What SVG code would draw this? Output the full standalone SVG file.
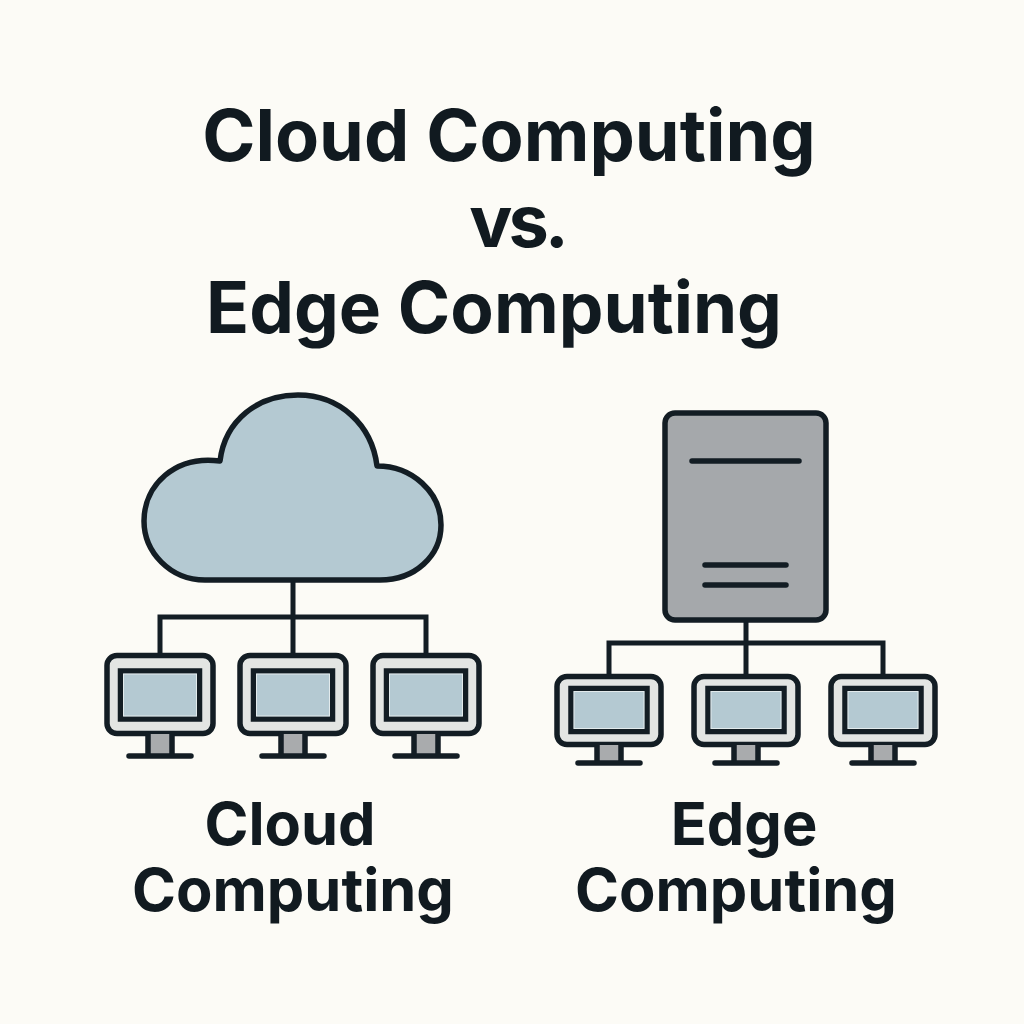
<svg xmlns="http://www.w3.org/2000/svg" width="1024" height="1024" viewBox="0 0 1024 1024">
<style>
.t{font-family:Inter,"Liberation Sans",sans-serif;font-weight:700;fill:#111a20;text-anchor:middle}
.h{font-size:72px}.h2{font-size:71px}.l{font-size:59.5px}
.s{stroke:#131d24;stroke-width:5.5;fill:none;stroke-linecap:round;stroke-linejoin:round}
.c{stroke:#131d24;stroke-width:5;fill:none;stroke-linecap:butt;stroke-linejoin:miter}
.f{stroke:#131d24;stroke-width:5.5;stroke-linejoin:miter}
.b{fill:#b4c9d2}.g{fill:#e3e5e3}.st{fill:#a5a8ab}
.hl{fill:none;stroke:#e2eaec;stroke-width:1}
</style>
<defs>
<g id="m1">
<rect class="s g" x="-53" y="-40.5" width="106" height="78" rx="10"/>
<rect class="f b" x="-39.5" y="-25" width="79" height="48"/>
<rect class="hl" x="-36.5" y="-22" width="73" height="42"/>
<rect x="-12" y="38" width="24" height="20" fill="#a9abad"/>
<path class="s" d="M-12 38V58M12 38V58M-31 60H31"/>
</g>
<g id="m2">
<rect class="s g" x="-52" y="-34.5" width="104" height="68" rx="10"/>
<rect class="f b" x="-38" y="-22.5" width="76" height="43"/>
<rect class="hl" x="-35" y="-19.5" width="70" height="37"/>
<rect x="-12" y="34" width="24" height="18" fill="#a9abad"/>
<path class="s" d="M-12 34V52M12 34V52M-31 52H31"/>
</g>
</defs>
<rect width="1024" height="1024" fill="#fcfbf6"/>
<g id="title">
<text class="t h" x="509" y="161">Cloud Computing</text>
<text class="t h" x="517" y="247" letter-spacing="-4">vs.</text>
<text class="t h2" x="494" y="333">Edge Computing</text>
</g>
<g id="connectors">
<path class="c" d="M293 580V655M160 655V617H426V655"/>
<path class="c" d="M746 620V676M609 676V643H883V676"/>
</g>
<g id="cloud"><path class="s b" d="M205 580C170 580 144 552 144 521C144 485 175 455 220 461C225 420 258 395 298 395C340 395 372 425 377 466C412 466 441 492 441 525C441 556 415 580 380 580Z"/></g>
<g id="server">
<rect class="s st" x="665" y="413" width="161" height="207" rx="10"/>
<path class="s" d="M692 461H799M705 565H786M705 585H786"/>
</g>
<g id="cloud-pc-1"><use href="#m1" x="160" y="696"/></g>
<g id="cloud-pc-2"><use href="#m1" x="293" y="696"/></g>
<g id="cloud-pc-3"><use href="#m1" x="426" y="696"/></g>
<g id="edge-pc-1"><use href="#m2" x="609" y="711"/></g>
<g id="edge-pc-2"><use href="#m2" x="746" y="711"/></g>
<g id="edge-pc-3"><use href="#m2" x="883" y="711"/></g>
<g id="label-cloud"><text class="t l" x="290" y="845">Cloud</text><text class="t l" x="293" y="911">Computing</text></g>
<g id="label-edge"><text class="t l" x="744" y="845">Edge</text><text class="t l" x="736" y="911">Computing</text></g>
</svg>
